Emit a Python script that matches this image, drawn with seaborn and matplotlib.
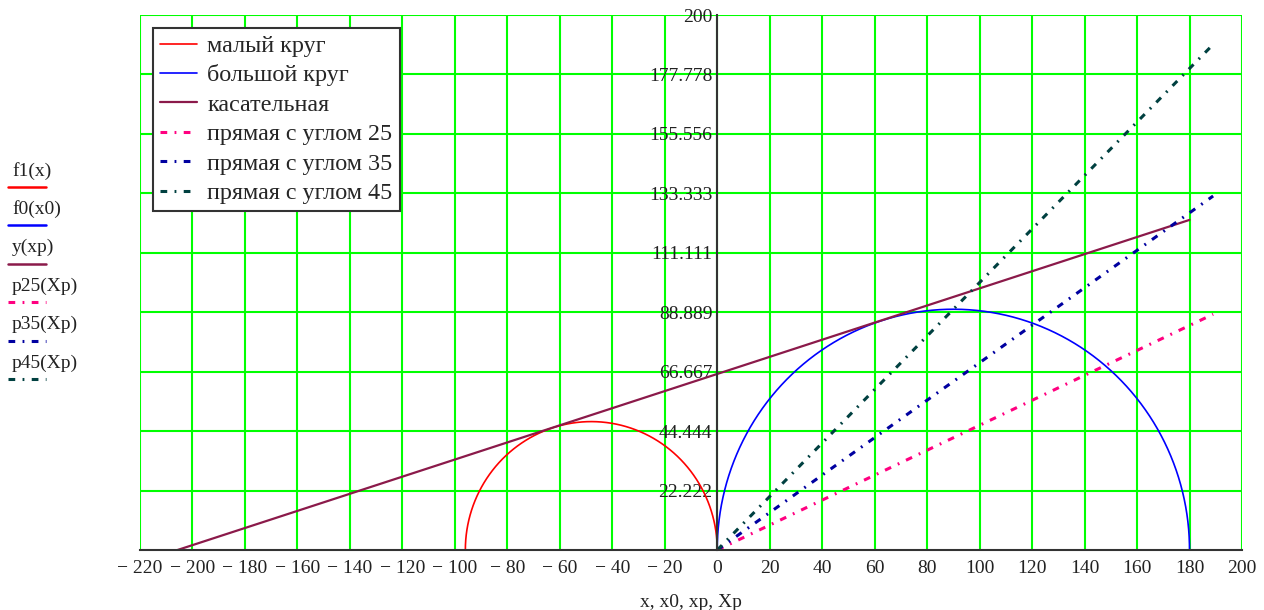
import numpy as np
import pandas as pd
import matplotlib
matplotlib.use("Agg")
import matplotlib.pyplot as plt
from matplotlib.lines import Line2D
import seaborn as sns

# ---- data ----
small_center, small_radius = -48.0, 48.0      # f1(x)  малый круг
big_center, big_radius = 90.0, 90.0           # f0(x0) большой круг
tangent_x = [-205.7, 180.0]                   # y(xp)  касательная
tangent_y = [0.0, 123.4]
ray_angles = [25, 35, 45]                     # p25, p35, p45
ray_x_end = 189.0

legend_labels = ["малый круг", "большой круг", "касательная",
                 "прямая с углом 25", "прямая с углом 35", "прямая с углом 45"]
side_labels = ["f1(x)", "f0(x0)", "y(xp)", "p25(Xp)", "p35(Xp)", "p45(Xp)"]
xticks = list(range(-220, 201, 20))
yticks = [200 / 9 * k for k in range(1, 10)]
ytick_labels = ["22.222", "44.444", "66.667", "88.889", "111.111",
                "133.333", "155.556", "177.778", "200"]
x_label = "x, x0, xp, Xp"

colors = ["#FF0000", "#0000FF", "#8B1A4A", "#FF0080", "#0000A0", "#004040"]

# ---- build series ----
t = np.linspace(np.pi, 0, 400)
def semicircle(c, r):
    return pd.DataFrame({"x": c + r * np.cos(t), "y": r * np.sin(t)})

df_small = semicircle(small_center, small_radius)
df_big = semicircle(big_center, big_radius)
df_tan = pd.DataFrame({"x": tangent_x, "y": tangent_y})
ray_dfs = []
for a in ray_angles:
    xs = np.array([0.0, ray_x_end])
    ray_dfs.append(pd.DataFrame({"x": xs, "y": np.tan(np.radians(a)) * xs}))

sns.set_style("white")
plt.rcParams["font.family"] = ["Liberation Serif", "DejaVu Serif"]

fig = plt.figure(figsize=(12.64, 6.10), dpi=100)
W, H = 1264, 610
L, R, T, B = 140, 1242, 15, 550
ax = fig.add_axes([L / W, 1 - B / H, (R - L) / W, (B - T) / H])

dash = (2.2, 2.4, 0.6, 2.4)
sns.lineplot(data=df_small, x="x", y="y", sort=False, estimator=None,
             color=colors[0], lw=1.2, ax=ax, label=legend_labels[0])
sns.lineplot(data=df_big, x="x", y="y", sort=False, estimator=None,
             color=colors[1], lw=1.2, ax=ax, label=legend_labels[1])
sns.lineplot(data=df_tan, x="x", y="y", sort=False, estimator=None,
             color=colors[2], lw=1.6, ax=ax, label=legend_labels[2])
for i, d in enumerate(ray_dfs):
    sns.lineplot(data=d, x="x", y="y", sort=False, estimator=None,
                 color=colors[3 + i], lw=2.2, ax=ax,
                 label=legend_labels[3 + i])
    ax.lines[-1].set_dashes(dash)

ax.set_xlim(-220, 200)
ax.set_ylim(0, 200)
ax.set_xticks(xticks)
ax.set_xticklabels([("\u2212 %d" % -v) if v < 0 else str(v) for v in xticks])
ax.set_yticks(yticks)
ax.set_yticklabels(ytick_labels)
ax.grid(True, color="#00FF00", lw=1.5)
ax.set_axisbelow(True)

for s in ["top", "right"]:
    ax.spines[s].set_visible(False)
ax.spines["left"].set_position(("data", 0))
ax.spines["left"].set_color("#333333")
ax.spines["left"].set_linewidth(1.5)
ax.spines["left"].set_zorder(5)
ax.spines["bottom"].set_color("#333333")
ax.spines["bottom"].set_linewidth(1.5)
ax.tick_params(axis="both", direction="inout", length=7, width=1.2,
               color="#222222", labelsize=14, labelcolor="#222222")
ax.tick_params(axis="y", pad=0)
ax.tick_params(axis="x", pad=4)
ax.set_xlabel(x_label, fontsize=14, color="#222222", labelpad=12)
ax.set_ylabel("")

leg = ax.legend(loc="upper left", bbox_to_anchor=(0.0118, 0.976),
                borderaxespad=0, fontsize=17.4, frameon=True, fancybox=False,
                handlelength=1.53, labelspacing=0.31, handletextpad=0.41,
                borderpad=0.3)
leg.get_frame().set_edgecolor("#333333")
leg.get_frame().set_linewidth(1.5)
leg.get_frame().set_alpha(1)
for h in leg.get_lines()[3:]:
    h.set_dashes(dash)

# side labels (Mathcad style)
for i, (lab, c) in enumerate(zip(side_labels, colors)):
    ty = 171 + i * 38.4
    fig.text(12 / W, 1 - ty / H, lab, fontsize=14, color="#222222",
             va="center", ha="left")
    ly = 1 - (ty + 16) / H
    line = Line2D([8 / W, 46 / W], [ly, ly], transform=fig.transFigure,
                  color=c, lw=1.8 if i < 3 else 2.2)
    if i >= 3:
        line.set_dashes(dash)
    fig.add_artist(line)

fig.savefig("out.png", dpi=100)
